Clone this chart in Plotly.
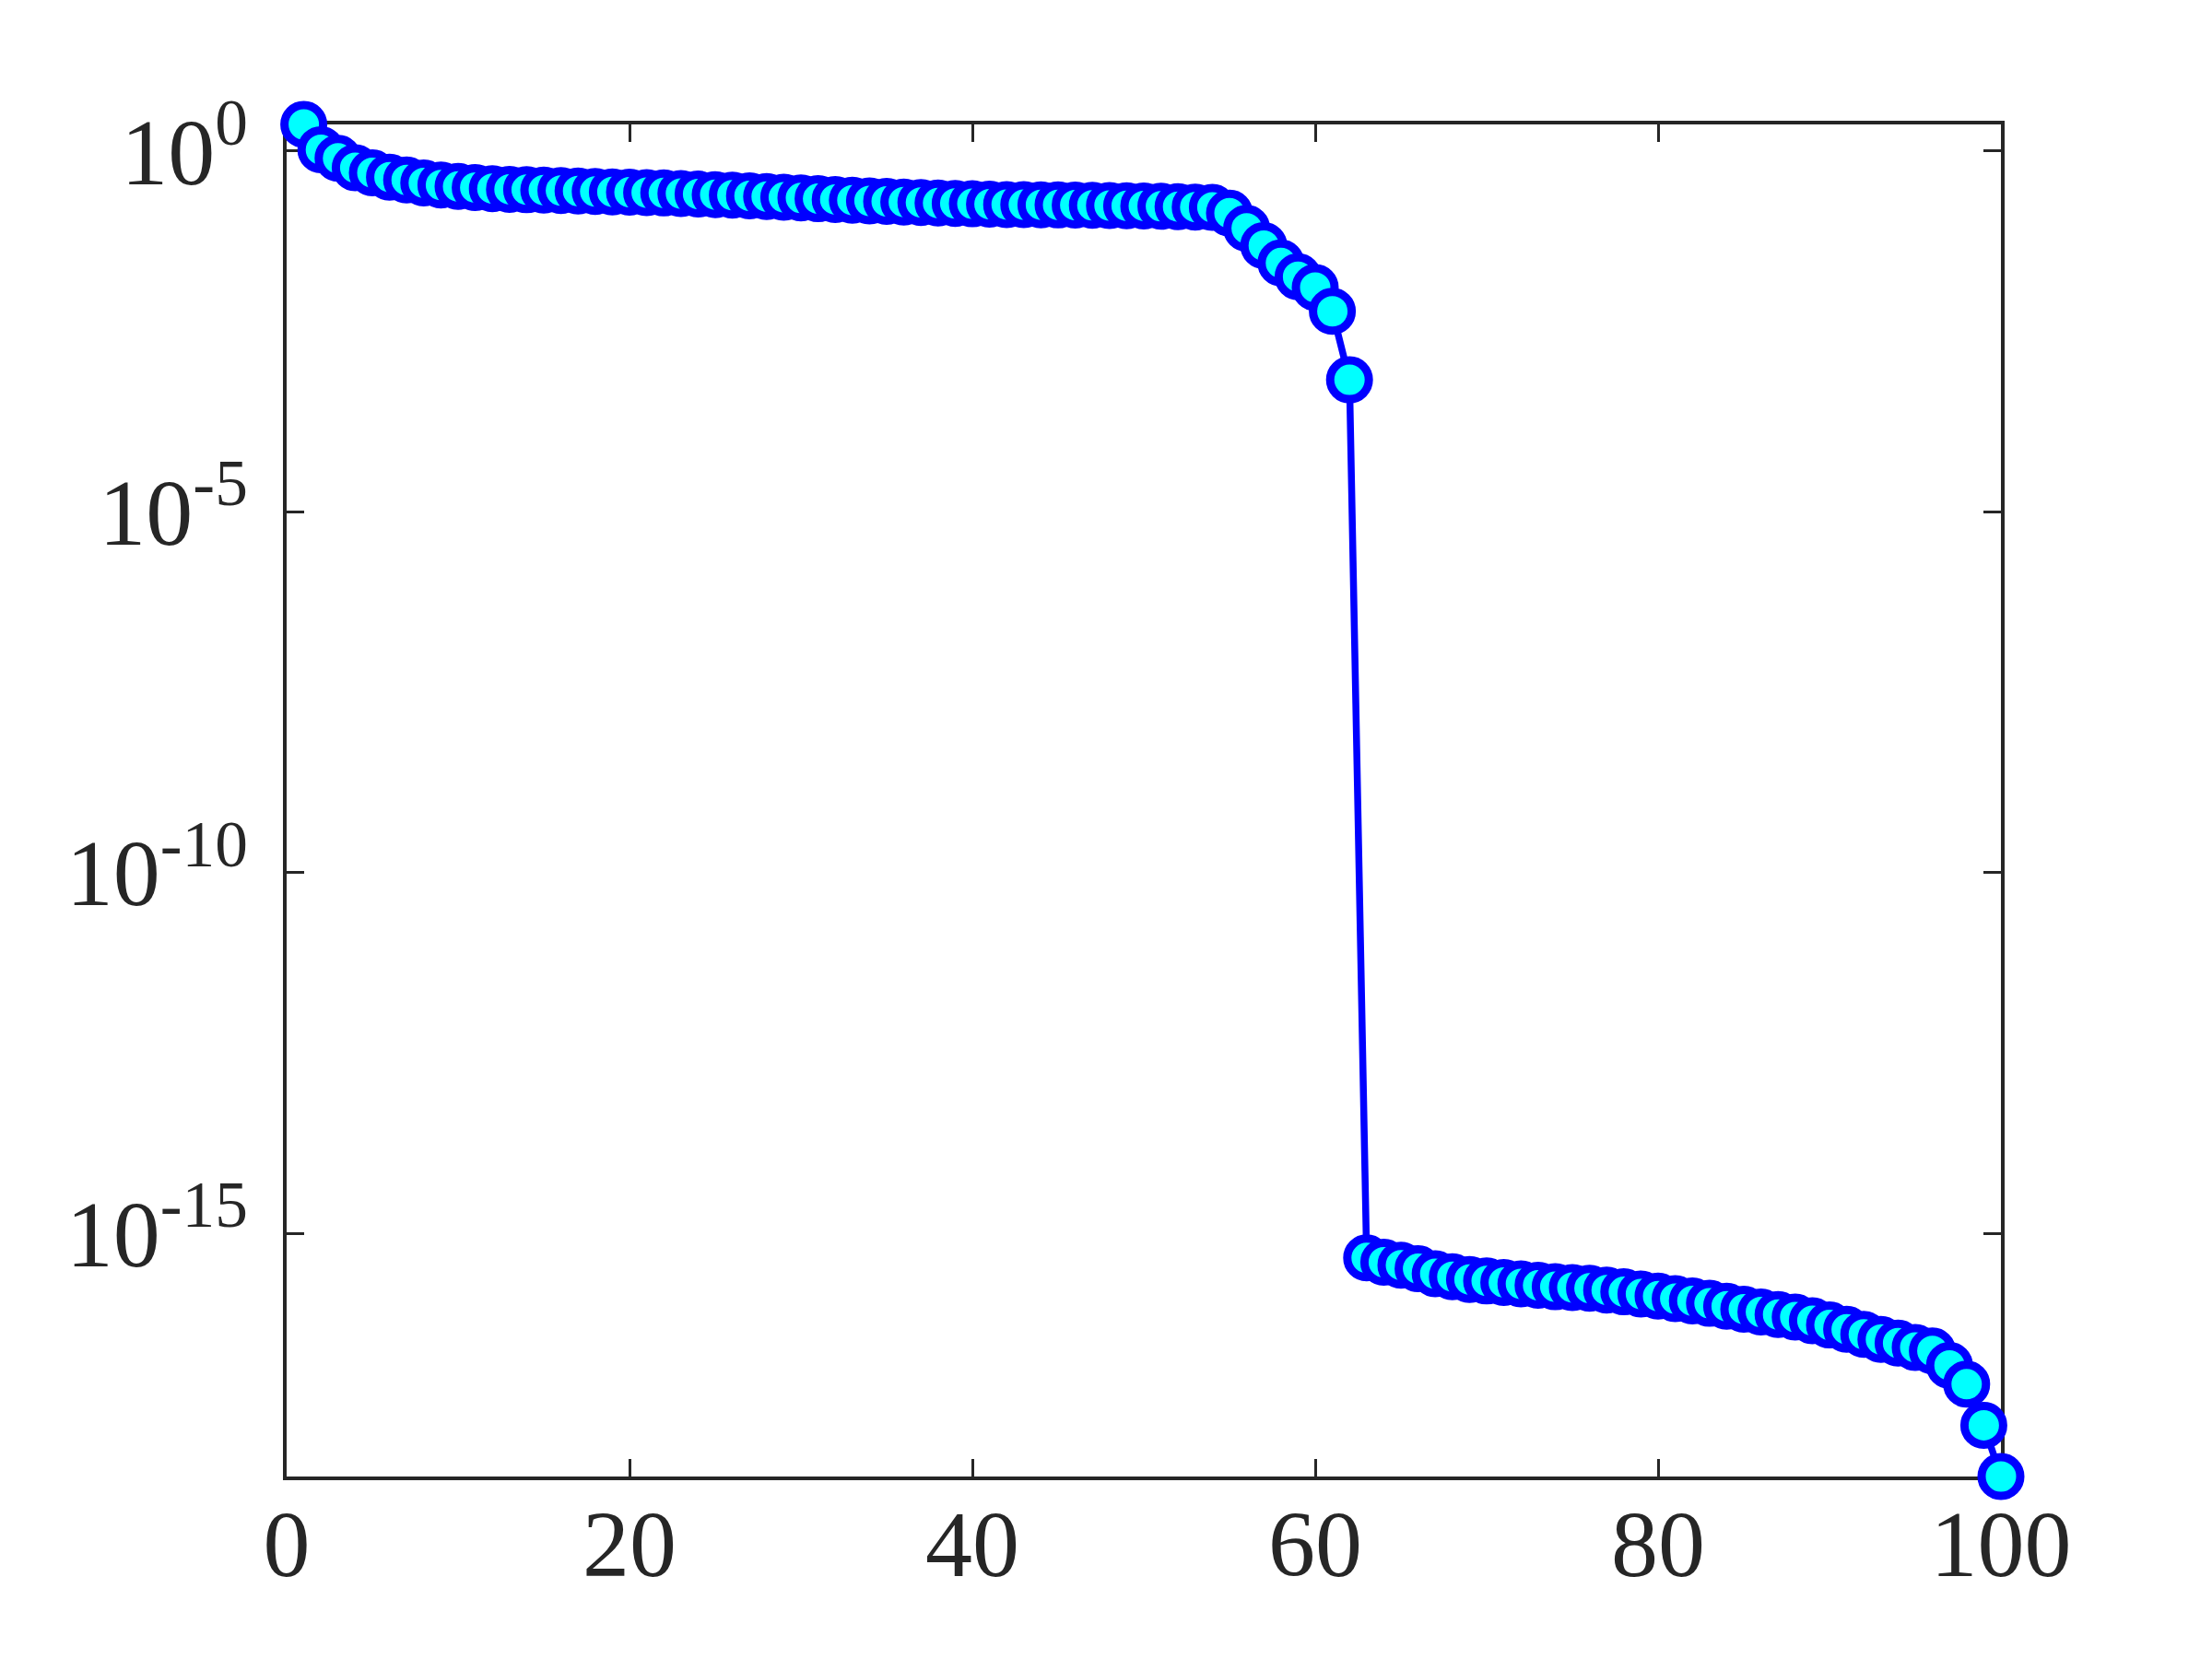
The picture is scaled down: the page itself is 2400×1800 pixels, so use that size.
import numpy as np
import plotly.graph_objects as go

idx = list(range(1, 101))
sigma = [
    2.344, 1.047, 0.7943, 0.5888, 0.5012, 0.4365, 0.3981, 0.3631, 0.3388, 0.3236,
    0.3126, 0.3020, 0.2951, 0.2917, 0.2884, 0.2838, 0.2799, 0.2754, 0.2723, 0.2692,
    0.2661, 0.2630, 0.2582, 0.2541, 0.2495, 0.2455, 0.2399, 0.2344, 0.2291, 0.2239,
    0.2188, 0.2138, 0.2089, 0.2042, 0.2009, 0.1972, 0.1941, 0.1905, 0.1884, 0.1862,
    0.1841, 0.1820, 0.1811, 0.1803, 0.1795, 0.1786, 0.1774, 0.1762, 0.1750, 0.1738,
    0.1718, 0.1698, 0.1679, 0.1660, 0.1380, 0.08511, 0.04898, 0.02818, 0.01820, 0.01288,
    0.006026, 0.0006761, 4.571e-16, 3.981e-16, 3.631e-16, 3.236e-16, 2.754e-16, 2.512e-16, 2.291e-16, 2.188e-16,
    2.089e-16, 1.995e-16, 1.905e-16, 1.820e-16, 1.778e-16, 1.738e-16, 1.641e-16, 1.549e-16, 1.445e-16, 1.349e-16,
    1.245e-16, 1.161e-16, 1.072e-16, 9.772e-17, 8.913e-17, 8.128e-17, 7.499e-17, 6.918e-17, 6.166e-17, 5.370e-17,
    4.677e-17, 3.981e-17, 3.388e-17, 3.020e-17, 2.630e-17, 2.344e-17, 1.479e-17, 8.128e-18, 2.188e-18, 4.266e-19,
]
x_ticks = [0, 20, 40, 60, 80, 100]
y_ticks = [1e0, 1e-5, 1e-10, 1e-15]
y_tick_text = ["10<sup>0</sup>", "10<sup>-5</sup>", "10<sup>-10</sup>", "10<sup>-15</sup>"]

axis_color = "#262626"
font = dict(family="Liberation Serif, DejaVu Serif, serif", size=102, color=axis_color)

fig = go.Figure()
fig.add_trace(go.Scatter(
    x=idx, y=sigma, mode="lines+markers",
    line=dict(color="#0000ff", width=7.5),
    marker=dict(symbol="circle", size=42, color="#00ffff",
                line=dict(color="#0000ff", width=9)),
    cliponaxis=False, showlegend=False,
))

fig.update_layout(
    width=2400, height=1800,
    margin=dict(l=303, r=237, t=127, b=206),
    paper_bgcolor="white", plot_bgcolor="white",
    font=font,
)
fig.update_xaxes(
    range=[0, 100], tickvals=x_ticks, ticktext=[str(v) for v in x_ticks],
    showline=True, linecolor=axis_color, linewidth=3.5, mirror="ticks",
    ticks="inside", ticklen=19, tickwidth=2.5, tickcolor=axis_color,
    showgrid=False, zeroline=False, layer="below traces",
    tickfont=font, ticklabelstandoff=-18,
)
fig.update_yaxes(
    type="log", range=[np.log10(min(sigma)), np.log10(max(sigma))],
    tickvals=y_ticks, ticktext=y_tick_text,
    showline=True, linecolor=axis_color, linewidth=3.5, mirror="ticks",
    ticks="inside", ticklen=19, tickwidth=2.5, tickcolor=axis_color,
    showgrid=False, zeroline=False, layer="below traces",
    tickfont=font, ticklabelstandoff=18,
)

fig.write_html("out.html")
